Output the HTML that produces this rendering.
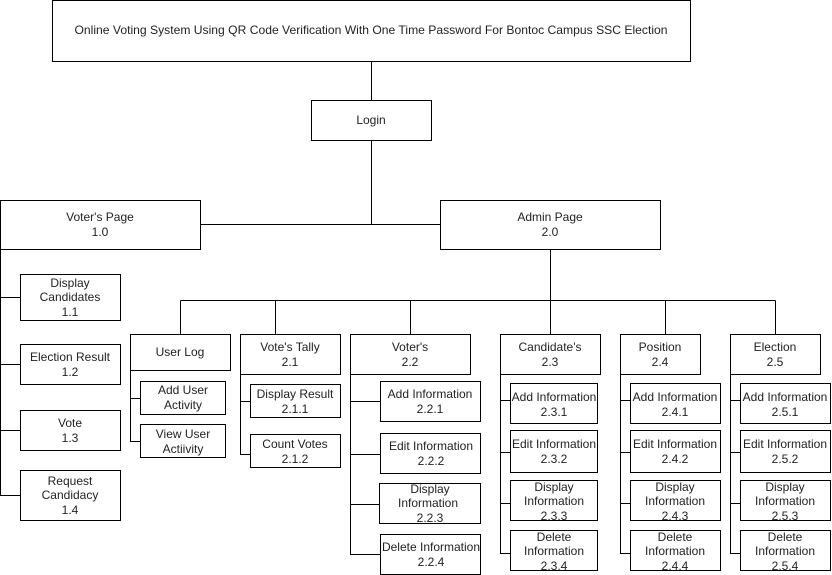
<!DOCTYPE html>
<html><head><meta charset="utf-8"><style>
html,body{margin:0;padding:0;background:#fff;}
svg{display:block;}
text{font-family:"Liberation Sans",Arial,sans-serif;font-size:12px;fill:#222;text-anchor:middle;}
rect{fill:#fff;stroke:#000;stroke-width:1;}
line,path{stroke:#000;stroke-width:1;fill:none;}
</style></head><body>
<svg width="832" height="575" viewBox="0 0 832 575" xmlns="http://www.w3.org/2000/svg">
<!-- connectors -->
<path d="M371.5 61V100M371.5 140V224.5H201M371.5 224.5H440"/>
<path d="M550.5 249V300.5M180.5 300.5H775.5M180.5 300.5V334M275.5 300.5V334M410.5 300.5V334M550.5 300.5V334M665.5 300.5V334M775.5 300.5V334"/>
<path d="M0.5 249V495.5H20M0.5 297.5H20M0.5 364.5H20M0.5 430.5H20"/>
<path d="M130.5 370V441.5H140M130.5 398.5H140"/>
<path d="M240.5 374V454.5H250M240.5 401.5H250"/>
<path d="M350.5 374V554.5H380M350.5 401.5H380M350.5 454.5H380M350.5 504.5H380"/>
<path d="M500.5 374V553.5H510M500.5 400.5H510M500.5 452.5H510M500.5 503.5H510"/>
<path d="M620.5 374V553.5H630M620.5 400.5H630M620.5 452.5H630M620.5 503.5H630"/>
<path d="M730.5 374V553.5H740M730.5 400.5H740M730.5 452.5H740M730.5 503.5H740"/>

<!-- top -->
<rect x="52.5" y="0.5" width="638" height="61"/>
<text x="371" y="34" textLength="593" lengthAdjust="spacingAndGlyphs">Online Voting System Using QR Code Verification With One Time Password For Bontoc Campus SSC Election</text>
<rect x="311.5" y="100.5" width="120" height="40"/>
<text x="371" y="124">Login</text>

<rect x="0.5" y="200.5" width="200" height="49"/>
<text x="100" y="221">Voter's Page</text><text x="100" y="236">1.0</text>
<rect x="440.5" y="200.5" width="220" height="49"/>
<text x="550" y="221">Admin Page</text><text x="550" y="236">2.0</text>

<!-- voter children -->
<rect x="20.5" y="274.5" width="100" height="46"/>
<text x="70" y="287">Display</text><text x="70" y="301">Candidates</text><text x="70" y="316">1.1</text>
<rect x="20.5" y="344.5" width="100" height="40"/>
<text x="70" y="361">Election Result</text><text x="70" y="376">1.2</text>
<rect x="20.5" y="410.5" width="100" height="40"/>
<text x="70" y="427">Vote</text><text x="70" y="442">1.3</text>
<rect x="20.5" y="470.5" width="100" height="50"/>
<text x="70" y="485">Request</text><text x="70" y="499">Candidacy</text><text x="70" y="514">1.4</text>

<!-- user log -->
<rect x="130.5" y="334.5" width="100" height="36"/>
<text x="180" y="356">User Log</text>
<rect x="140.5" y="381.5" width="85" height="33"/>
<text x="183" y="394">Add User</text><text x="183" y="409">Activity</text>
<rect x="140.5" y="424.5" width="85" height="33"/>
<text x="183" y="438">View User</text><text x="183" y="453">Actiivity</text>

<!-- vote's tally -->
<rect x="240.5" y="334.5" width="100" height="40"/>
<text x="290" y="351">Vote's Tally</text><text x="290" y="366">2.1</text>
<rect x="250.5" y="384.5" width="90" height="33"/>
<text x="295" y="398">Display Result</text><text x="295" y="413">2.1.1</text>
<rect x="250.5" y="434.5" width="90" height="33"/>
<text x="295" y="448">Count Votes</text><text x="295" y="463">2.1.2</text>

<!-- voter's -->
<rect x="350.5" y="334.5" width="120" height="40"/>
<text x="410" y="351">Voter's</text><text x="410" y="366">2.2</text>
<rect x="380.5" y="381.5" width="100" height="40"/>
<text x="430" y="398">Add Information</text><text x="430" y="413">2.2.1</text>
<rect x="380.5" y="433.5" width="100" height="40"/>
<text x="431" y="450">Edit Information</text><text x="431" y="465">2.2.2</text>
<rect x="379.5" y="483.5" width="101" height="40"/>
<text x="430" y="493">Display</text><text x="428" y="507">Information</text><text x="430" y="522">2.2.3</text>
<rect x="380.5" y="534.5" width="100" height="40"/>
<text x="431" y="551">Delete Information</text><text x="431" y="566">2.2.4</text>

<!-- candidate's / position / election -->
<g>
<rect x="500.5" y="334.5" width="100" height="40"/>
<text x="550" y="351">Candidate's</text><text x="550" y="366">2.3</text>
<rect x="620.5" y="334.5" width="80" height="40"/>
<text x="660" y="351">Position</text><text x="660" y="366">2.4</text>
<rect x="730.5" y="334.5" width="90" height="40"/>
<text x="775" y="351">Election</text><text x="775" y="366">2.5</text>
</g>
<g>
<rect x="510.5" y="383.5" width="87" height="40"/>
<text x="554" y="401">Add Information</text><text x="554" y="416">2.3.1</text>
<rect x="510.5" y="430.5" width="87" height="42"/>
<text x="554" y="448">Edit Information</text><text x="554" y="463">2.3.2</text>
<rect x="510.5" y="480.5" width="87" height="40"/>
<text x="554" y="491">Display</text><text x="554" y="505">Information</text><text x="554" y="520">2.3.3</text>
<rect x="510.5" y="530.5" width="87" height="40"/>
<text x="554" y="541">Delete</text><text x="554" y="555">Information</text><text x="554" y="570">2.3.4</text>

<rect x="630.5" y="383.5" width="90" height="40"/>
<text x="675" y="401">Add Information</text><text x="675" y="416">2.4.1</text>
<rect x="630.5" y="430.5" width="90" height="42"/>
<text x="675" y="448">Edit Information</text><text x="675" y="463">2.4.2</text>
<rect x="630.5" y="480.5" width="90" height="40"/>
<text x="675" y="491">Display</text><text x="675" y="505">Information</text><text x="675" y="520">2.4.3</text>
<rect x="630.5" y="530.5" width="90" height="40"/>
<text x="675" y="541">Delete</text><text x="675" y="555">Information</text><text x="675" y="570">2.4.4</text>

<rect x="740.5" y="383.5" width="90" height="40"/>
<text x="785" y="401">Add Information</text><text x="785" y="416">2.5.1</text>
<rect x="740.5" y="430.5" width="90" height="42"/>
<text x="785" y="448">Edit Information</text><text x="785" y="463">2.5.2</text>
<rect x="740.5" y="480.5" width="90" height="40"/>
<text x="785" y="491">Display</text><text x="785" y="505">Information</text><text x="785" y="520">2.5.3</text>
<rect x="740.5" y="530.5" width="90" height="40"/>
<text x="785" y="541">Delete</text><text x="785" y="555">Information</text><text x="785" y="570">2.5.4</text>
</g>
</svg>
</body></html>
